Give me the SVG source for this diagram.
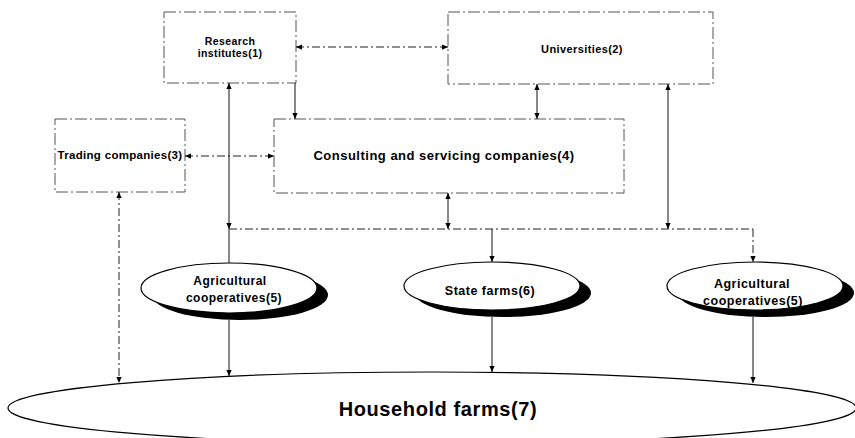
<svg xmlns="http://www.w3.org/2000/svg" width="855" height="438" viewBox="0 0 855 438">
<style>
.box{fill:#fff;stroke:#555;stroke-width:1;stroke-dasharray:12 3 2 3}
.t{font-family:"Liberation Sans",Arial,sans-serif;font-weight:bold;fill:#000;text-anchor:middle}
.s{fill:none;stroke:#111;stroke-width:1}
.d{fill:none;stroke:#222;stroke-width:1;stroke-dasharray:8 3 2 3}
.el{fill:#fff;stroke:#000;stroke-width:1.2}
.sh{fill:#000}
</style>
<defs>
<marker id="ae" viewBox="0 0 8 8" refX="8" refY="4" markerWidth="6" markerHeight="6" orient="auto"><path d="M0,0.5 L8,4 L0,7.5 z" fill="#000"/></marker>
<marker id="as" viewBox="0 0 8 8" refX="0" refY="4" markerWidth="6" markerHeight="6" orient="auto"><path d="M8,0.5 L0,4 L8,7.5 z" fill="#000"/></marker>
</defs>
<rect width="855" height="438" fill="#fff"/>
<g id="household">
<ellipse class="el" cx="432" cy="408" rx="424" ry="36"/>
<text class="t" x="438" y="416" font-size="20" letter-spacing="0.6">Household farms(7)</text>
</g>
<g id="research">
<rect class="box" x="164" y="12" width="132" height="71"/>
<text class="t" x="230" y="45" font-size="10.5" letter-spacing="0.4">Research</text>
<text class="t" x="230" y="57" font-size="10.5" letter-spacing="0.4">institutes(1)</text>
</g>
<g id="universities">
<rect class="box" x="448" y="12" width="265" height="72"/>
<text class="t" x="582" y="53" font-size="11" letter-spacing="0.4">Universities(2)</text>
</g>
<g id="trading">
<rect class="box" x="55" y="119" width="130" height="73"/>
<text class="t" x="120" y="159" font-size="11.5" letter-spacing="0.3">Trading companies(3)</text>
</g>
<g id="consulting">
<rect class="box" x="274" y="119" width="350" height="74"/>
<text class="t" x="444" y="160" font-size="13" letter-spacing="0.5">Consulting and servicing companies(4)</text>
</g>
<g id="agri1">
<ellipse class="sh" cx="240" cy="295" rx="88" ry="25"/>
<ellipse class="el" cx="229" cy="288" rx="88" ry="25"/>
<text class="t" x="230" y="285" font-size="12" letter-spacing="0.5">Agricultural</text>
<text class="t" x="234" y="302" font-size="12" letter-spacing="0.5">cooperatives(5)</text>
</g>
<g id="state">
<ellipse class="sh" cx="503" cy="293" rx="88" ry="24"/>
<ellipse class="el" cx="492" cy="286" rx="88" ry="24"/>
<text class="t" x="490" y="295" font-size="12.5" letter-spacing="0.5">State farms(6)</text>
</g>
<g id="agri2">
<ellipse class="sh" cx="766" cy="293" rx="88" ry="24"/>
<ellipse class="el" cx="755" cy="286" rx="88" ry="24"/>
<text class="t" x="752" y="288" font-size="12.5" letter-spacing="0.5">Agricultural</text>
<text class="t" x="753" y="305" font-size="12.5" letter-spacing="0.5">cooperatives(5)</text>
</g>
<g id="connectors">
<line class="d" x1="296" y1="47" x2="448" y2="47" marker-start="url(#as)" marker-end="url(#ae)"/>
<line class="s" x1="295" y1="83" x2="295" y2="119" marker-end="url(#ae)"/>
<line class="s" x1="537" y1="84" x2="537" y2="119" marker-start="url(#as)" marker-end="url(#ae)"/>
<line class="d" x1="185" y1="156" x2="274" y2="156" marker-start="url(#as)" marker-end="url(#ae)"/>
<line class="s" x1="229" y1="83" x2="229" y2="229" marker-start="url(#as)" marker-end="url(#ae)"/>
<line class="s" x1="229" y1="229" x2="229" y2="263"/>
<line class="s" x1="668" y1="84" x2="668" y2="229" marker-start="url(#as)" marker-end="url(#ae)"/>
<line class="s" x1="448" y1="193" x2="448" y2="229" marker-start="url(#as)" marker-end="url(#ae)"/>
<line class="d" x1="229" y1="229" x2="753" y2="229"/>
<line class="s" x1="492" y1="229" x2="492" y2="262" marker-end="url(#ae)"/>
<line class="d" x1="753" y1="229" x2="753" y2="262" marker-end="url(#ae)"/>
<line class="d" x1="119" y1="192" x2="119" y2="383" marker-start="url(#as)" marker-end="url(#ae)"/>
<line class="s" x1="229" y1="320" x2="229" y2="376" marker-end="url(#ae)"/>
<line class="s" x1="492" y1="317" x2="492" y2="372" marker-end="url(#ae)"/>
<line class="s" x1="753" y1="317" x2="753" y2="383" marker-end="url(#ae)"/>
</g>
</svg>
